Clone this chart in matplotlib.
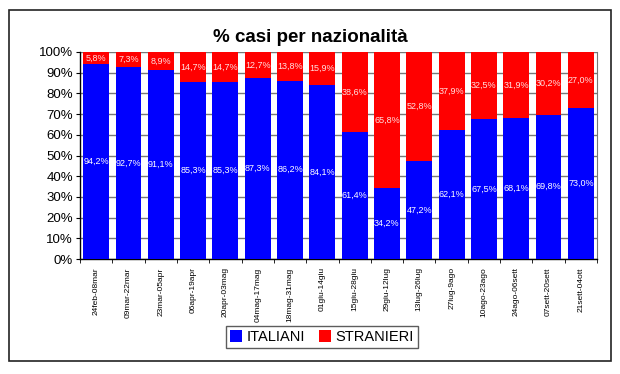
import matplotlib
matplotlib.use("Agg")
import matplotlib.pyplot as plt
from matplotlib.patches import Rectangle
import numpy as np

plt.rcParams['font.family'] = ['Liberation Sans', 'DejaVu Sans']

periods = ["24feb-08mar", "09mar-22mar", "23mar-05apr", "06apr-19apr", "20apr-03mag",
           "04mag-17mag", "18mag-31mag", "01giu-14giu", "15giu-28giu", "29giu-12lug",
           "13lug-26lug", "27lug-9ago", "10ago-23ago", "24ago-06sett", "07sett-20sett",
           "21sett-04ott"]
italiani = [94.2, 92.7, 91.1, 85.3, 85.3, 87.3, 86.2, 84.1, 61.4, 34.2, 47.2, 62.1, 67.5, 68.1, 69.8, 73.0]
stranieri = [5.8, 7.3, 8.9, 14.7, 14.7, 12.7, 13.8, 15.9, 38.6, 65.8, 52.8, 37.9, 32.5, 31.9, 30.2, 27.0]

fig = plt.figure(figsize=(6.2, 3.74), dpi=100)
fig.patches.append(Rectangle((9/620, 1 - 361/374), 602/620, 351/374, transform=fig.transFigure,
                             fill=False, edgecolor='#222222', linewidth=1.2))
ax = fig.add_axes([80/620, 1 - 259/374, 517/620, 207/374])

x = np.arange(len(periods))
w = 0.8
ax.bar(x, italiani, w, color='#0000ff', label='ITALIANI', zorder=3)
top = [100 - i for i in italiani]
ax.bar(x, top, w, bottom=italiani, color='#ff0000', label='STRANIERI', zorder=3)

for xi, it, st in zip(x, italiani, stranieri):
    ax.text(xi, it / 2, f"{it:.1f}%".replace('.', ','), ha='center', va='center',
            color='white', fontsize=6.5, zorder=4)
    ax.text(xi, it + (100 - it) / 2, f"{st:.1f}%".replace('.', ','), ha='center', va='center',
            color='#ffe0e0', fontsize=6.5, zorder=4)

ax.set_xlim(-0.5, len(periods) - 0.5)
ax.set_ylim(0, 100)
ax.set_yticks(np.arange(0, 101, 10))
ax.set_yticklabels([f"{v}%" for v in range(0, 101, 10)], fontsize=9.5)
ax.yaxis.grid(True, color='#777777', linewidth=1.0, zorder=0)
ax.set_xticks(x)
ax.set_xticklabels(periods, rotation=90, fontsize=6)
ax.set_xticks(np.arange(-0.5, len(periods), 1), minor=True)
ax.tick_params(axis='x', which='major', length=0, pad=6)
ax.tick_params(axis='x', which='minor', length=3, direction='out')
ax.tick_params(axis='y', length=3, direction='out', pad=2)
ax.spines['top'].set_visible(False)
ax.spines['right'].set_color('#777777')
ax.spines['left'].set_linewidth(1.0)
ax.spines['bottom'].set_linewidth(1.0)

fig.text(0.5, 1 - 37/374, "% casi per nazionalità", ha='center', va='center',
         fontsize=13.5, fontweight='bold')

leg = fig.legend(loc='center', bbox_to_anchor=(322/620, 1 - 337/374), ncol=2, fontsize=10.5,
                 frameon=True, fancybox=False, edgecolor='#333333', handlelength=0.8,
                 handleheight=0.8, handletextpad=0.3, columnspacing=1.0, borderpad=0.3)
leg.get_frame().set_linewidth(1.0)

fig.savefig("out.png", dpi=100)
